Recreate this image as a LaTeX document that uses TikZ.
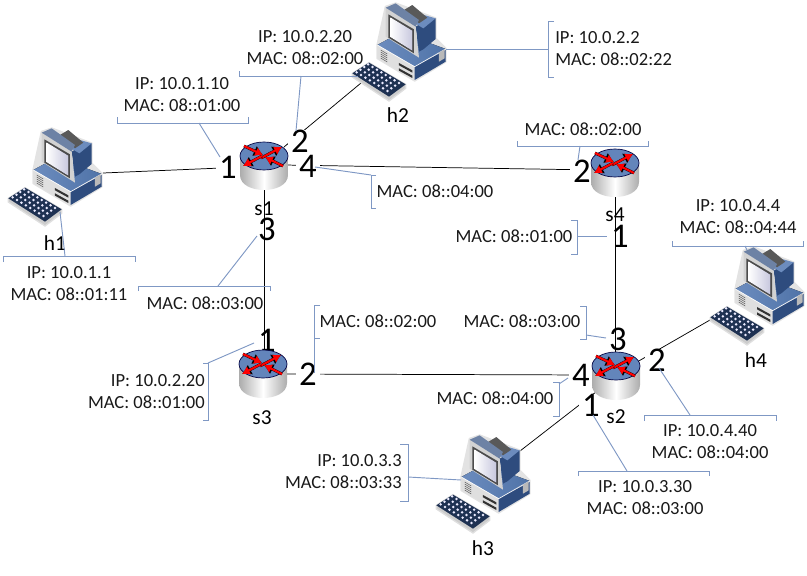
\documentclass[tikz,border=0pt]{standalone}
\usepackage{fontspec}
\setmainfont{Carlito}
\usetikzlibrary{arrows.meta}
\definecolor{calloutblue}{HTML}{7F98C4}
\definecolor{pcblue}{HTML}{4F73A8}
\definecolor{pcdark}{HTML}{2E4C7E}
\definecolor{pctop}{HTML}{6C8CBE}
\definecolor{routertop}{HTML}{6385BB}
\tikzset{
  x=0.75pt,y=-0.75pt,
  link/.style={draw=black,line width=0.55pt},
  callout/.style={draw=calloutblue,line width=0.7pt},
  info/.style={font=\fontsize{13.9}{16.5}\selectfont,align=center,inner sep=0pt,text=black!90},
  infoL/.style={info,align=left},
  infoR/.style={info,align=right},
  devname/.style={font=\fontsize{16}{18}\selectfont,inner sep=0pt},
  port/.style={font=\fontsize{26}{28}\selectfont,inner sep=0pt},
  portgap/.style={port,fill=white,inner xsep=2.5pt,inner ysep=0pt},
  hostpc/.pic={
    \begin{scope}[scale=0.3333]
      % halo
      \fill[gray!22,draw=gray!22,line width=1.5pt,line join=round] (100,150)--(125,35)--(155,25)--(275,70)--(275,130)--(305,160)--(305,200)--(212,257)--(100,190)--cycle;
      % base
      \fill[left color=pctop,right color=pcblue] (100,150)--(170,112)--(305,162)--(212,215)--cycle;
      \fill[gray!25] (100,150)--(212,215)--(212,255)--(100,190)--cycle;
      \fill[pcdark] (212,215)--(305,165)--(305,200)--(212,255)--cycle;
      \draw[white,line width=0.5pt] (100,150)--(212,215)--(305,162);
      \fill[gray!55] (285,173)--(302,163)--(302,190)--(285,200)--cycle;
      \foreach \v in {0,6,...,24}{\draw[gray!70!black,line width=0.35pt] (110,165+\v)--(130,177+\v);}
      \fill[black!80] (165,204)--(205,226)--(205,233)--(165,211)--cycle;
      \fill[black!80] (165,220)--(205,242)--(205,249)--(165,227)--cycle;
      % monitor back
      \fill[pcdark] (215,95)--(240,80)--(275,70)--(275,132)--(238,163)--(225,170)--cycle;
      \fill[pctop] (238,100)--(275,70)--(240,60)--(205,80)--cycle;
      \fill[black!65] (180,45)--(205,30)--(250,68)--(225,85)--cycle;
      % monitor front
      \fill[gray!35] (125,38)--(215,95)--(225,188)--(125,125)--cycle;
      \fill[pcdark!70] (125,38)--(155,25)--(225,75)--(215,95)--cycle;
      \fill[black!70] (133,58)--(210,103)--(210,175)--(133,128)--cycle;
      \fill[left color=white,right color=blue!25!gray!35] (139,67)--(205,107)--(205,167)--(139,126)--cycle;
      % keyboard
      \fill[gray!40,draw=gray!25,line width=1pt] (25,235)--(25,246)--(135,318)--(185,280)--(185,268)--(75,203)--cycle;
      \fill[black!35!pcdark] (25,235)--(75,203)--(185,268)--(135,305)--cycle;
      \foreach \u in {0,...,7}{\foreach \w in {0,...,3}{
        \fill[blue!8!white] ({38+\u*13.2+\w*11.5},{232+\u*8+\w*-8}) circle[radius=4.2];
      }}
    \end{scope}
  },
  routerpc/.pic={
    \path[left color=gray!65,right color=gray!65,middle color=white]
      (-24,0)--(-24,19) .. controls (-24,39) and (24,39) .. (24,19)--(24,0)--cycle;
    \fill[routertop,draw=black!75!blue,line width=0.5pt] (0,0) ellipse[x radius=24,y radius=14];
    \foreach \a/\b/\c/\d in {-3/2/18/-9,-2/0/-21/10,-20/-10/-1/-1,19/10/1/1}{
      \draw[black,line width=2.1pt,-{Latex[length=7pt,width=8.5pt]}] (\a,\b)--(\c,\d);
      \draw[red,line width=1.6pt,-{Latex[length=5.8pt,width=7pt]}] (\a,\b)--(\c,\d);
    }
  },
}
\begin{document}
\begin{tikzpicture}
\useasboundingbox (0,0) rectangle (807,575);
% link end points
\coordinate (h1e) at (103,173); \coordinate (s1w) at (245,167);
\coordinate (h2e) at (361,83);  \coordinate (s1n) at (284,147);
\coordinate (s1e) at (284,165); \coordinate (s4w) at (595,170);
\coordinate (s1s) at (264,188); \coordinate (s3n) at (264,352);
\coordinate (s3e) at (285,374); \coordinate (s2w) at (595,375);
\coordinate (s4s) at (615,192); \coordinate (s2n) at (615,354);
\coordinate (h4e) at (710,320); \coordinate (s2e) at (637,362);
\coordinate (h3e) at (520,451); \coordinate (s2sw) at (596,392);
\draw[link] (h1e)--(s1w);
\draw[link] (h2e)--(s1n);
\draw[link] (s1e)--(s4w);
\draw[link] (s1s)--(s3n);
\draw[link] (s3e)--(s2w);
\draw[link] (s4s)--(s2n);
\draw[link] (h4e)--(s2e);
\draw[link] (h3e)--(s2sw);
% ports
\node[portgap] (p11) at (228,167) {1};
\node[portgap] (p12) at (300,141) {2};
\node[portgap] (p14) at (308,166) {4};
\node[port] (p13) at (267,229) {3};
\node[port] (p31) at (267,340) {1};
\node[portgap] (p32) at (308,374) {2};
\node[portgap] (p42) at (582,171) {2};
\node[port] (p41) at (620,236) {1};
\node[port] (p23) at (618,339) {3};
\node[portgap] (p24) at (581,375) {4};
\node[portgap] (p22) at (657,360) {2};
\node[portgap] (p21) at (591,405) {1};
% devices
\pic at (0,120) {hostpc};
\pic at (344,-5) {hostpc};
\pic at (428,427) {hostpc};
\pic at (702,239) {hostpc};
\pic at (264,156) {routerpc};
\pic at (263,364) {routerpc};
\pic at (615,163) {routerpc};
\pic at (616,366) {routerpc};
% device names
\node[devname] (nh1) at (55,243) {h1};
\node[devname] (nh2) at (398,115) {h2};
\node[devname] (nh3) at (483,548) {h3};
\node[devname] (nh4) at (756,360) {h4};
\node[devname] (ns1) at (264,209) {s1};
\node[devname] (ns3) at (262,418) {s3};
\node[devname] (ns4) at (615,215) {s4};
\node[devname] (ns2) at (616,417) {s2};
% callout brackets
\draw[callout] (117,117)--(117,123)--(248,123)--(248,117);
\draw[callout] (239,71)--(239,76)--(358,76);
\draw[callout] (3,262)--(3,256)--(135,256)--(135,262);
\draw[callout] (138,291)--(138,286)--(270,286)--(270,291);
\draw[callout] (376,175)--(371,175)--(371,208)--(376,208);
\draw[callout] (554,21)--(548,21)--(548,77)--(554,77);
\draw[callout] (517,141)--(517,146)--(648,146)--(648,141);
\draw[callout] (571,220)--(577,220)--(577,254)--(571,254);
\draw[callout] (672,241)--(672,246)--(803,246)--(803,241);
\draw[callout] (203,363)--(208,363)--(208,420)--(203,420);
\draw[callout] (320,305)--(314,305)--(314,338)--(320,338);
\draw[callout] (580,306)--(586,306)--(586,339)--(580,339);
\draw[callout] (553,382)--(559,382)--(559,416)--(553,416);
\draw[callout] (644,421)--(644,415)--(776,415)--(776,421);
\draw[callout] (578,476)--(578,471)--(709,471)--(709,476);
\draw[callout] (400,444)--(408,444)--(408,501)--(400,501);
% callout leaders
\coordinate (a1) at (199,123); \coordinate (a2) at (220,157);
\coordinate (b1) at (301,76);  \coordinate (b2) at (296,131);
\coordinate (c1) at (60,212);  \coordinate (c2) at (65,256);
\coordinate (d1) at (257,236); \coordinate (d2) at (218,286);
\coordinate (e1) at (315,167); \coordinate (e2) at (371,175);
\coordinate (f1) at (446,49);  \coordinate (f2) at (548,49);
\coordinate (g1) at (580,146); \coordinate (g2) at (578,160);
\coordinate (j1) at (577,236); \coordinate (j2) at (607,236);
\coordinate (i1) at (745,246); \coordinate (i2) at (747,250);
\coordinate (k1) at (208,363); \coordinate (k2) at (254,343);
\coordinate (l1) at (314,338); \coordinate (l2) at (314,373);
\coordinate (m1) at (586,335); \coordinate (m2) at (606,338);
\coordinate (n1) at (559,384); \coordinate (n2) at (568,378);
\coordinate (o1) at (690,415); \coordinate (o2) at (659,368);
\coordinate (q1) at (627,471); \coordinate (q2) at (593,415);
\coordinate (r1) at (408,477); \coordinate (r2) at (461,480);
\foreach \u/\v in {a1/a2,b1/b2,c1/c2,d1/d2,e1/e2,f1/f2,g1/g2,j1/j2,i1/i2,k1/k2,l1/l2,m1/m2,n1/n2,o1/o2,q1/q2,r1/r2}{\draw[callout] (\u)--(\v);}
% labels
\node[info] (t1) at (182,95) {IP: 10.0.1.10\\MAC: 08::01:00};
\node[info] (t2) at (305,48) {IP: 10.0.2.20\\MAC: 08::02:00};
\node[info] (t3) at (69,284) {IP: 10.0.1.1\\MAC: 08::01:11};
\node[info] (t4) at (205,303) {MAC: 08::03:00};
\node[info] (t5) at (435,191) {MAC: 08::04:00};
\node[infoL,anchor=west] (t6) at (555,49) {IP: 10.0.2.2\\MAC: 08::02:22};
\node[info] (t7) at (583,129) {MAC: 08::02:00};
\node[info] (t8) at (514,236) {MAC: 08::01:00};
\node[info] (t9) at (738,217) {IP: 10.0.4.4\\MAC: 08::04:44};
\node[info] (t10) at (378,321) {MAC: 08::02:00};
\node[info] (t11) at (522,321) {MAC: 08::03:00};
\node[infoR,anchor=east] (t12) at (205,392) {IP: 10.0.2.20\\MAC: 08::01:00};
\node[info] (t13) at (495,398) {MAC: 08::04:00};
\node[info] (t14) at (710,442) {IP: 10.0.4.40\\MAC: 08::04:00};
\node[info] (t15) at (645,498) {IP: 10.0.3.30\\MAC: 08::03:00};
\node[infoR,anchor=east] (t16) at (402,472) {IP: 10.0.3.3\\MAC: 08::03:33};
\end{tikzpicture}
\end{document}
